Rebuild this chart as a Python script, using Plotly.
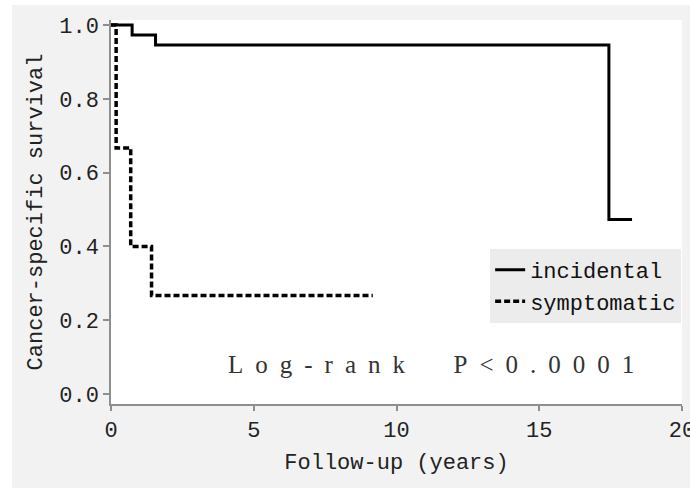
import plotly.graph_objects as go

# Data (Kaplan-Meier steps)
incidental_t = [0, 0.74, 1.56, 17.44, 18.25]
incidental_s = [1.0, 0.973, 0.946, 0.473, 0.473]
symptomatic_t = [0, 0.18, 0.69, 1.42, 9.17]
symptomatic_s = [1.0, 0.667, 0.4, 0.267, 0.267]
x_ticks = [0, 5, 10, 15, 20]
y_ticks = [0.0, 0.2, 0.4, 0.6, 0.8, 1.0]

MONO = "Liberation Mono"
AX = "#8e8e8e"

fig = go.Figure()
fig.add_trace(go.Scatter(x=incidental_t, y=incidental_s, mode="lines", line_shape="hv",
                         name="incidental", line=dict(color="black", width=3)))
fig.add_trace(go.Scatter(x=symptomatic_t, y=symptomatic_s, mode="lines", line_shape="hv",
                         name="symptomatic", line=dict(color="black", width=3.5, dash="6px,3px")))

fig.update_layout(
    width=690, height=488,
    margin=dict(l=111, r=8, t=20, b=84, autoexpand=False),
    paper_bgcolor="#f2f2f2",
    plot_bgcolor="white",
    font=dict(family=MONO, size=22, color="#222"),
    showlegend=True,
    legend=dict(x=0.664, y=0.404, xanchor="left", yanchor="top",
                bgcolor="#ececec", borderwidth=0, itemwidth=30,
                font=dict(family=MONO, size=22, color="#111"),
                tracegroupgap=0),
    xaxis=dict(range=[0, 20], tickvals=x_ticks, ticktext=[str(v) for v in x_ticks],
               showline=True, linecolor=AX, linewidth=1.5, ticks="outside", ticklen=5,
               tickcolor=AX, tickwidth=1.5, showgrid=False, zeroline=False,
               ticklabeloverflow="allow", automargin=False,
               title=dict(text="Follow-up (years)", standoff=10,
                          font=dict(family=MONO, size=22, color="#222"))),
    yaxis=dict(range=[-0.027, 1.0136], tickvals=y_ticks, ticktext=[f"{v:.1f}" for v in y_ticks],
               showline=True, linecolor=AX, linewidth=1.5, ticks="outside", ticklen=6,
               tickcolor=AX, tickwidth=1.5, showgrid=False, zeroline=False, automargin=False,
               title=dict(text="Cancer-specific survival", standoff=11,
                          font=dict(family=MONO, size=22, color="#222"))),
)

# white outer border of the original image
fig.add_shape(type="rect", xref="paper", yref="paper", x0=-0.25, x1=-0.1734, y0=-0.3, y1=1.1,
              fillcolor="white", line_width=0, layer="below")
fig.add_shape(type="rect", xref="paper", yref="paper", x0=-0.25, x1=1.1, y0=1.039, y1=1.1,
              fillcolor="white", line_width=0, layer="below")

fig.add_annotation(xref="paper", yref="paper", x=(437 - 111) / 571, y=(404 - 364) / 384,
                   text='<span style="letter-spacing:12px">Log-rank  P&lt;0.0001</span>',
                   showarrow=False, xanchor="center", yanchor="middle",
                   font=dict(family="Liberation Serif", size=25, color="#333"))

fig.write_html("out.html")
